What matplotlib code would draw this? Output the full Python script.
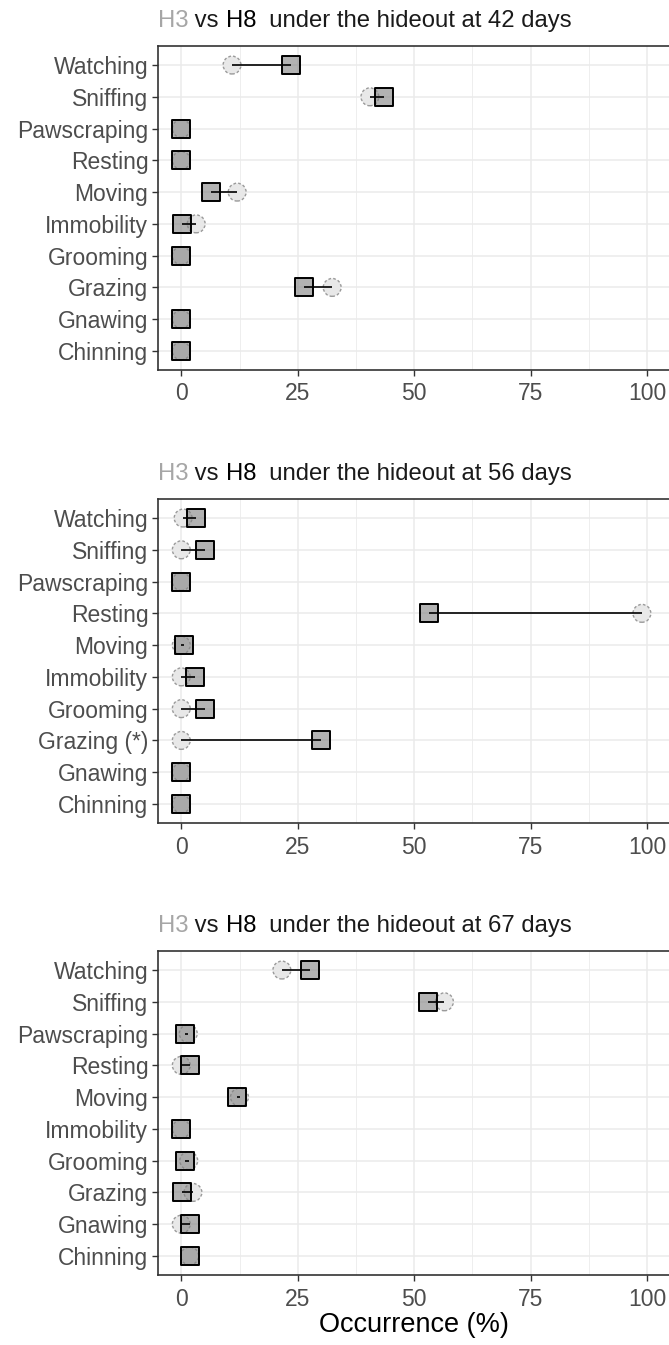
import matplotlib
matplotlib.use('Agg')
import matplotlib.pyplot as plt

plt.rcParams['font.family'] = ['Liberation Sans', 'DejaVu Sans']

behaviours = ['Watching', 'Sniffing', 'Pawscraping', 'Resting', 'Moving',
              'Immobility', 'Grooming', 'Grazing', 'Gnawing', 'Chinning']
days = [42, 56, 67]

# occurrence (%) per behaviour, H3 and H8, for each age
h3_42 = [10.9, 40.5, 0.0, 0.0, 12.0, 3.2, 0.0, 32.4, 0.0, 0.0]
h8_42 = [23.6, 43.5, 0.0, 0.0, 6.4, 0.2, 0.0, 26.4, 0.0, 0.0]
h3_56 = [0.4, 0.0, 0.0, 98.9, 0.0, 0.0, 0.0, 0.0, 0.0, 0.0]
h8_56 = [3.2, 5.0, 0.0, 53.2, 0.5, 2.9, 5.0, 30.1, 0.0, 0.0]
h3_67 = [21.6, 56.5, 1.5, 0.0, 12.5, 0.0, 1.6, 2.5, 0.0, 1.8]
h8_67 = [27.7, 52.9, 0.9, 1.9, 12.0, 0.0, 0.9, 0.1, 1.9, 1.9]

labels_56 = ['Watching', 'Sniffing', 'Pawscraping', 'Resting', 'Moving',
             'Immobility', 'Grooming', 'Grazing (*)', 'Gnawing', 'Chinning']
x_ticks = [0, 25, 50, 75, 100]

panels = [
    (h3_42, h8_42, behaviours),
    (h3_56, h8_56, labels_56),
    (h3_67, h8_67, behaviours),
]

W, H = 669, 1345
fig = plt.figure(figsize=(W / 100, H / 100), dpi=100)

# pixel boxes (top, bottom) of each panel
boxes = [(46, 370), (499, 823), (951, 1275)]
left_px = 158
right_px = 670.3

for (h3, h8, labels), d, (top, bot) in zip(panels, days, boxes):
    ax = fig.add_axes([left_px / W, 1 - bot / H,
                       (right_px - left_px) / W, (bot - top) / H])
    n = len(labels)
    y = list(range(n))[::-1]

    ax.scatter(h3, y, s=165, marker='o', facecolor='#e8e8e8',
               edgecolor='#9a9a9a', linewidths=1.0, linestyle=(0, (2, 1.5)),
               zorder=3)
    ax.scatter(h8, y, s=160, marker='s', facecolor=(0.5, 0.5, 0.5, 0.6),
               edgecolor='black', linewidths=1.4, zorder=4)
    ax.hlines(y, h3, h8, color='black', lw=1.2, zorder=5)

    ax.set_xlim(-5, 105)
    ax.set_ylim(-0.6, n - 0.4)
    ax.set_yticks(y)
    ax.set_yticklabels(labels)
    ax.set_xticks(x_ticks)
    ax.set_xticks([12.5, 37.5, 62.5, 87.5], minor=True)
    ax.tick_params(axis='both', which='major', labelsize=16.5,
                   labelcolor='#4d4d4d', color='#333333', length=4, width=1)
    ax.tick_params(axis='x', which='minor', length=0)
    ax.tick_params(axis='x', pad=5)
    ax.tick_params(axis='y', pad=3)
    ax.grid(True, which='major', color='#ebebeb', lw=1.1, zorder=0)
    ax.grid(True, which='minor', axis='x', color='#ebebeb', lw=0.6, zorder=0)
    ax.set_axisbelow(True)
    for sp in ax.spines.values():
        sp.set_color('#333333')
        sp.set_linewidth(1.2)

    # title built from coloured pieces
    t = ax.text(0.0, 1.0 + 19 / (bot - top), 'H3', transform=ax.transAxes,
                fontsize=17.2, color='#a6a6a6', ha='left', va='baseline')
    prev = t
    for piece, col in [(' vs ', '#1a1a1a'), ('H8', 'black'),
                       ('  under the hideout at %d days' % d, '#1a1a1a')]:
        prev = ax.annotate(piece, xy=(1, 0), xycoords=prev, fontsize=17.2,
                           color=col, ha='left', va='bottom')

    if d == 67:
        ax.set_xlabel('Occurrence (%)', fontsize=19.5, color='black',
                      labelpad=1)

fig.savefig('out.png', dpi=100)
